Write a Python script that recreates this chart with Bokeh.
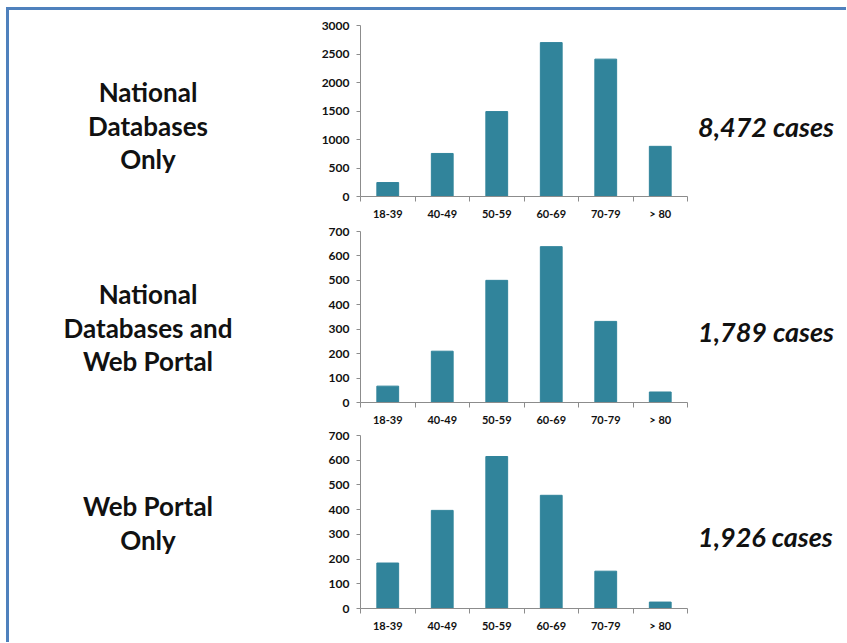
from bokeh.plotting import figure
from bokeh.layouts import row, column
from bokeh.models import Div, Range1d, FixedTicker, ColumnDataSource
from bokeh.embed import file_html
from bokeh.resources import INLINE

# ---------------- data ----------------
age_groups = ["18-39", "40-49", "50-59", "60-69", "70-79", "> 80"]
national_only = [245, 755, 1490, 2700, 2410, 880]
national_and_web = [67, 210, 500, 638, 332, 43]
web_only = [184, 397, 615, 458, 151, 26]

group_titles = [["National", "Databases", "Only"],
                ["National", "Databases and", "Web Portal"],
                ["Web Portal", "Only"]]
case_labels = ["8,472 cases", "1,789 cases", "1,926 cases"]
y_max = [3000, 700, 700]
y_step = [500, 100, 100]

# ---------------- style ----------------
BAR = "#31849B"
AXIS = "#8C8C8C"
FRAME_BLUE = "#4F81BD"
FONT = "Lato"
LEFT_W = 278


def make_chart(values, ymax, step, top, frame_h, bottom):
    n = len(age_groups)
    centers = [i + 0.5 for i in range(n)]
    src = ColumnDataSource(dict(x=centers, top=values, label=age_groups))
    p = figure(width=73 + 327 + 6, height=top + frame_h + bottom,
               x_range=Range1d(0, n), y_range=Range1d(0, ymax),
               output_backend="svg", toolbar_location=None,
               min_border_left=73, min_border_right=6,
               min_border_top=top, min_border_bottom=bottom)
    p.vbar(x="x", top="top", width=0.4, source=src,
           fill_color=BAR, line_color=BAR)
    p.grid.visible = False
    p.outline_line_color = None
    p.background_fill_color = "white"

    xa = p.xaxis[0]
    xa.ticker = FixedTicker(ticks=centers, minor_ticks=list(range(n + 1)))
    xa.major_label_overrides = {c: lab for c, lab in zip(centers, age_groups)}
    xa.major_tick_out = 0
    xa.major_tick_in = 0
    xa.minor_tick_out = 5
    xa.minor_tick_in = 0
    xa.minor_tick_line_color = AXIS
    xa.axis_line_color = AXIS
    xa.major_label_standoff = 5
    xa.major_label_text_font = FONT
    xa.major_label_text_font_style = "bold"
    xa.major_label_text_font_size = "11px"
    xa.major_label_text_color = "#111111"

    ya = p.yaxis[0]
    ya.ticker = FixedTicker(ticks=list(range(0, ymax + 1, step)))
    ya.major_tick_out = 4
    ya.major_tick_in = 0
    ya.minor_tick_line_color = None
    ya.major_tick_line_color = AXIS
    ya.axis_line_color = AXIS
    ya.major_label_standoff = 7
    ya.major_label_text_font = FONT
    ya.major_label_text_font_style = "bold"
    ya.major_label_text_font_size = "12px"
    ya.major_label_text_color = "#111111"
    return p


def left_div(lines, top, h):
    html = ('<div style="margin-top:%dpx;width:%dpx;text-align:center;font-family:Lato;'
            'font-weight:bold;font-size:26px;line-height:33.5px;color:#111;">'
            % (top, LEFT_W)) + "<br>".join(lines) + "</div>"
    return Div(text=html, width=LEFT_W, height=h, margin=0)


def right_div(label, top, h):
    html = ('<div style="margin-top:%dpx;padding-left:5px;font-family:Lato;'
            'font-weight:bold;font-style:italic;font-size:27px;line-height:33.5px;'
            'color:#111;white-space:nowrap;">' % top) + label + "</div>"
    return Div(text=html, width=145, height=h, margin=0)


# geometry of the three rows: (top border, frame height, bottom border)
geo = [(15, 171, 28), (7, 173, 24), (7, 175, 24)]
left_tops = [66, 54, 62]
right_tops = [100, 91, 92]
series = [national_only, national_and_web, web_only]

rows = []
for i in range(3):
    t, fh, b = geo[i]
    h = t + fh + b
    chart = make_chart(series[i], y_max[i], y_step[i], t, fh, b)
    rows.append(row(left_div(group_titles[i], left_tops[i], h), chart,
                    right_div(case_labels[i], right_tops[i], h)))

top_bar = Div(text="", width=840, height=3, margin=0,
              styles={"background-color": FRAME_BLUE})
left_bar = Div(text="", width=3, height=632, margin=0,
               styles={"background-color": FRAME_BLUE})

layout = column(top_bar, row(left_bar, column(*rows)), margin=(7, 0, 0, 6))

open("out.html", "w").write(file_html(layout, INLINE))
